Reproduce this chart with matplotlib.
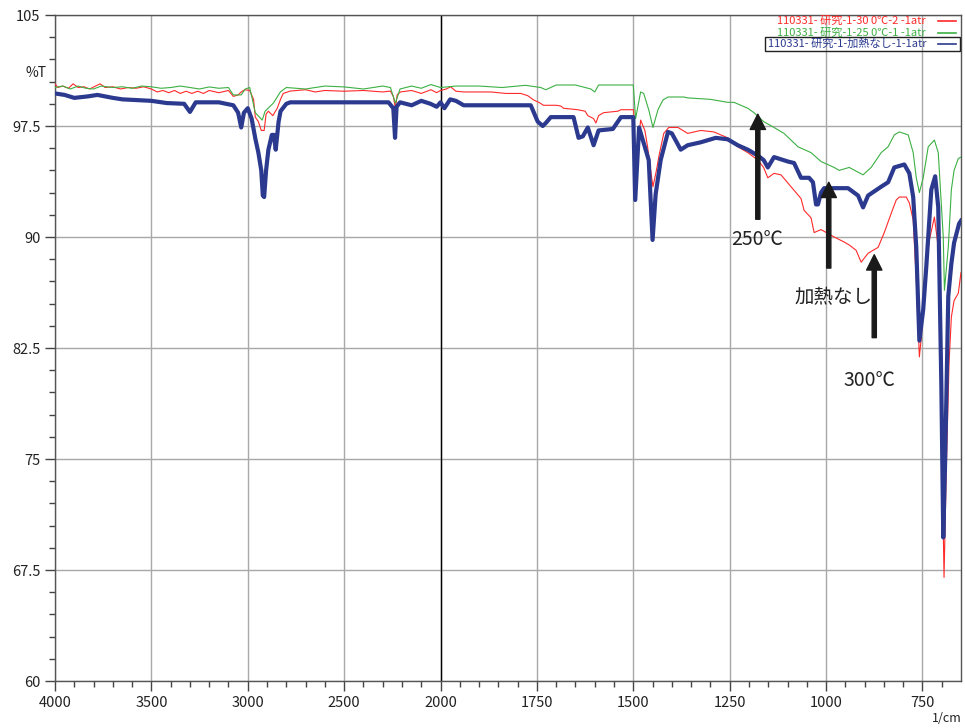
import matplotlib
matplotlib.use("Agg")
import matplotlib.pyplot as plt
import numpy as np
from matplotlib.lines import Line2D
from matplotlib.patches import Rectangle

plt.rcParams["font.family"] = ["Noto Sans CJK JP", "DejaVu Sans"]

# ── data (wavenumber 1/cm, %T) ────────────────────────────────────────────────
red_wn = [4000, 3985, 3960, 3930, 3906, 3880, 3850, 3820, 3790, 3766, 3740, 3700,
          3660, 3620, 3580, 3540, 3500, 3470, 3440, 3410, 3380, 3350, 3320, 3290,
          3260, 3230, 3200, 3150, 3100, 3075, 3050, 3034, 3015, 2990, 2970, 2961,
          2945, 2930, 2915, 2905, 2893, 2870, 2847, 2830, 2816, 2780, 2700, 2650,
          2600, 2500, 2400, 2300, 2260, 2245, 2234, 2225, 2208, 2150, 2100, 2050,
          2020, 2000, 1985, 1974, 1960, 1940, 1870, 1830, 1792, 1774, 1758, 1745,
          1733, 1700, 1688, 1681, 1644, 1625, 1618, 1603, 1597, 1590, 1577, 1540,
          1532, 1499, 1494, 1488, 1481, 1470, 1463, 1455, 1449, 1440, 1434, 1421,
          1408, 1384, 1359, 1325, 1291, 1255, 1229, 1203, 1177, 1162, 1151, 1135,
          1117, 1099, 1065, 1057, 1039, 1031, 1013, 979, 953, 940, 922, 909, 891,
          865, 849, 831, 818, 810, 792, 784, 774, 766, 758, 753, 745, 732, 719,
          709, 701, 694, 688, 681, 675, 668, 657, 650]
red_t = [100.35, 100.1, 100.2, 100.05, 100.35, 100.1, 100.15, 100.0, 100.2, 100.35,
         100.1, 100.15, 100.0, 100.1, 100.05, 100.15, 100.0, 99.8, 99.9, 99.75, 99.9,
         99.7, 99.85, 99.7, 99.85, 99.7, 99.9, 99.75, 99.9, 99.5, 99.6, 99.8, 99.95,
         99.9, 99.3, 98.1, 97.8, 97.2, 97.2, 98.3, 98.5, 98.2, 98.7, 99.3, 99.7,
         99.86, 99.95, 99.8, 99.9, 99.85, 99.9, 99.8, 99.86, 99.5, 98.7, 99.6, 99.8,
         99.9, 99.7, 99.95, 99.75, 99.9, 100.0, 100.15, 99.85, 99.8, 99.8, 99.7,
         99.7, 99.55, 99.25, 99.1, 98.9, 98.9, 98.85, 98.7, 98.6, 98.5, 98.2, 98.0,
         97.7, 98.2, 98.4, 98.5, 98.6, 98.6, 93.0, 96.0, 97.9, 97.2, 96.1, 94.5,
         93.4, 94.5, 95.4, 97.0, 97.4, 97.4, 97.0, 97.2, 97.1, 96.7, 96.1, 95.7,
         95.2, 94.7, 94.0, 94.3, 94.2, 93.65, 92.6, 91.8, 91.3, 90.3, 90.5, 90.0,
         89.66, 89.46, 89.1, 88.3, 88.9, 89.3, 90.3, 91.6, 92.5, 92.7, 92.7, 92.3,
         91.15, 87.1, 81.9, 83.2, 87.1, 89.8, 91.35, 89.3, 78.0, 67.0, 74.5, 81.5,
         84.6, 85.7, 86.2, 87.6]

green_wn = [4000, 3960, 3920, 3880, 3840, 3800, 3760, 3700, 3650, 3600, 3550, 3500,
            3450, 3400, 3350, 3300, 3250, 3200, 3150, 3100, 3075, 3034, 3013, 2990,
            2961, 2925, 2910, 2867, 2831, 2800, 2700, 2600, 2500, 2400, 2300, 2260,
            2234, 2210, 2150, 2100, 2050, 2000, 1960, 1900, 1840, 1780, 1740, 1727,
            1700, 1650, 1610, 1600, 1590, 1500, 1494, 1481, 1473, 1460, 1449, 1436,
            1423, 1410, 1369, 1359, 1300, 1255, 1239, 1203, 1187, 1162, 1135, 1109,
            1073, 1039, 1013, 979, 966, 940, 904, 883, 857, 839, 823, 810, 787, 774,
            766, 758, 748, 735, 719, 709, 696, 693, 683, 675, 668, 657, 650]
green_t = [100.1, 100.2, 100.0, 100.2, 100.05, 100.0, 100.2, 100.1, 100.15, 100.05,
           100.2, 100.15, 100.05, 100.1, 100.2, 100.1, 100.0, 100.14, 100.05, 100.1,
           99.6, 99.6, 100.0, 100.1, 98.4, 97.9, 98.5, 99.05, 99.8, 100.1, 100.0,
           100.2, 100.14, 100.0, 100.2, 100.1, 99.05, 100.0, 100.2, 100.05, 100.3,
           100.1, 100.2, 100.2, 100.1, 100.25, 100.1, 99.95, 100.27, 100.27, 100.0,
           99.8, 100.27, 100.27, 98.0, 99.8, 99.7, 98.6, 97.4, 98.6, 99.26, 99.46,
           99.46, 99.4, 99.3, 99.1, 99.1, 98.7, 98.4, 97.8, 97.4, 97.0, 96.1, 95.7,
           95.1, 94.7, 94.5, 94.7, 94.2, 94.7, 95.7, 96.1, 96.9, 97.1, 96.9, 95.7,
           94.0, 93.0, 94.0, 96.1, 96.55, 95.7, 90.0, 86.4, 89.3, 93.2, 94.5, 95.3,
           95.4]

blue_wn = [4000, 3950, 3900, 3830, 3780, 3700, 3650, 3500, 3420, 3330, 3300, 3270,
           3150, 3075, 3050, 3034, 3020, 3000, 2980, 2960, 2945, 2930, 2922, 2915,
           2905, 2893, 2875, 2865, 2855, 2840, 2830, 2800, 2780, 2500, 2400, 2270,
           2245, 2236, 2228, 2210, 2150, 2100, 2052, 2020, 2000, 1990, 1975, 1960,
           1940, 1850, 1766, 1748, 1735, 1727, 1714, 1655, 1642, 1631, 1618, 1603,
           1590, 1553, 1532, 1500, 1495, 1485, 1460, 1450, 1442, 1429, 1410, 1400,
           1377, 1359, 1325, 1286, 1255, 1229, 1203, 1177, 1162, 1151, 1135, 1099,
           1083, 1065, 1044, 1034, 1026, 1021, 1013, 1005, 979, 943, 917, 904, 891,
           857, 839, 823, 797, 784, 774, 766, 758, 748, 740, 727, 717, 709, 701,
           696, 691, 683, 675, 668, 655, 650]
blue_t = [99.7, 99.6, 99.4, 99.5, 99.6, 99.4, 99.3, 99.2, 99.05, 99.0, 98.45, 99.1,
          99.1, 98.9, 98.4, 97.4, 98.4, 98.7, 98.0, 96.6, 95.7, 94.5, 92.8, 92.7,
          94.5, 95.9, 96.9, 96.9, 95.9, 97.8, 98.5, 99.0, 99.1, 99.1, 99.1, 99.1,
          98.7, 96.7, 98.8, 99.1, 98.9, 99.2, 99.0, 98.8, 99.1, 98.7, 99.3, 99.2,
          98.9, 98.9, 98.9, 97.8, 97.5, 97.7, 98.1, 98.1, 96.7, 96.8, 97.4, 96.2,
          97.2, 97.3, 98.1, 98.1, 92.5, 97.4, 95.2, 89.8, 92.9, 95.2, 97.1, 97.0,
          95.9, 96.2, 96.4, 96.7, 96.6, 96.2, 95.9, 95.5, 95.2, 94.7, 95.4, 95.1,
          95.0, 94.0, 94.0, 93.7, 92.2, 92.2, 93.0, 93.3, 93.3, 93.3, 92.8, 92.0,
          92.8, 93.4, 93.7, 94.7, 94.9, 94.3, 92.7, 89.3, 83.0, 85.1, 88.0, 93.2,
          94.1, 92.0, 80.0, 69.7, 75.0, 86.0, 88.2, 89.6, 90.9, 91.1]

labels = ["110331- 研究-1-30 0℃-2 -1atr",
          "110331- 研究-1-25 0℃-1 -1atr",
          "110331- 研究-1-加熱なし-1-1atr"]
colors = ["#ff2a2a", "#3cb043", "#2b3a8f"]

x_major = [4000, 3500, 3000, 2500, 2000, 1750, 1500, 1250, 1000, 750]
y_major = [60, 67.5, 75, 82.5, 90, 97.5, 105]

# (label, text x, text y, arrow base y, arrow x, arrow tip y)
notes = [("250℃", 1178, 89.8, 91.2, 1177, 98.3),
         ("加熱なし", 980, 85.9, 87.9, 993, 93.7),
         ("300℃", 888, 80.3, 83.2, 875, 88.8)]


# wavenumber axis: 1/cm below 2000 is stretched by 2x
def fwd(x):
    x = np.asarray(x, dtype=float)
    return np.where(x >= 2000, x, 2 * x - 2000)


def inv(t):
    t = np.asarray(t, dtype=float)
    return np.where(t >= 2000, t, (t + 2000) / 2)


W, H = 965, 728
fig = plt.figure(figsize=(W / 100, H / 100), dpi=100)
ax = fig.add_axes([55 / W, 47 / H, 906 / W, 666 / H])
ax.set_xscale("function", functions=(fwd, inv))

ax.plot(red_wn, red_t, color=colors[0], lw=0.8, zorder=3)
ax.plot(green_wn, green_t, color=colors[1], lw=0.8, zorder=3)
ax.plot(blue_wn, blue_t, color=colors[2], lw=3, zorder=4)

ax.set_xlim(4000, 650)
ax.set_ylim(60, 105)

ax.set_xticks(x_major)
ax.set_xticklabels([str(v) for v in x_major])
minor_x = [v for v in range(3900, 2000, -100)] + [v for v in range(1950, 650, -50)]
ax.set_xticks([v for v in minor_x if v not in x_major], minor=True)
ax.set_yticks(y_major)
ax.set_yticklabels(["60", "67.5", "75", "82.5", "90", "97.5", "105"])
ax.set_yticks(np.arange(61.5, 105, 1.5), minor=True)

ax.grid(which="major", color="#a8a8a8", lw=1, zorder=1)
ax.axvline(2000, color="black", lw=1, zorder=2)
ax.tick_params(which="major", length=7, width=1, color="#444", labelsize=10.5,
               labelcolor="#222")
ax.tick_params(which="minor", length=4, width=1, color="#444")
for s in ax.spines.values():
    s.set_color("#555")
    s.set_linewidth(1)

fig.text(36 / W, 1 - 73 / H, "%T", ha="center", va="center", fontsize=10,
         color="#222")
fig.text(947 / W, 1 - 718 / H, "1/cm", ha="center", va="center", fontsize=9,
         color="#222")

# arrows + annotations
for txt, tx, ty, base, ax_x, tip in notes:
    ax.annotate("", xy=(ax_x, tip), xytext=(ax_x, base),
                arrowprops=dict(width=3, headwidth=11, headlength=11,
                                color="#1a1a1a", shrink=0), zorder=5)
    ax.text(tx, ty, txt, ha="center", va="center", fontsize=14, color="#222",
            zorder=5)

# legend drawn by hand (spectrometer style: text, then line sample)
for i, (lab, c) in enumerate(zip(labels, colors)):
    yy = 1 - (21 + 11.5 * i) / H
    fig.text(926 / W, yy, lab, ha="right", va="center", fontsize=8, color=c)
    fig.add_artist(Line2D([938 / W, 956 / W], [yy, yy], color=c, lw=1.2))
fig.add_artist(Rectangle((765 / W, 1 - 51 / H), 195 / W, 14 / H, fill=False,
                         edgecolor="#222", lw=1))

fig.savefig("out.png", dpi=100)
